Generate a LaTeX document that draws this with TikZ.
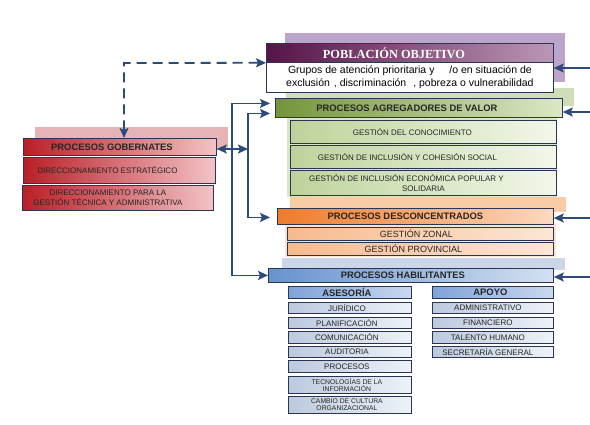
\documentclass[tikz,border=0pt]{standalone}
\usepackage{fontspec}
\setmainfont{Liberation Sans}
\newfontfamily\serifb{Liberation Serif}
\usetikzlibrary{arrows.meta}
\newcommand\padR[2]{#2\hspace{#1}\null}
\definecolor{bord}{HTML}{2B3553}
\definecolor{linkc}{HTML}{2E4A7B}
\definecolor{purD}{HTML}{541447}
\definecolor{purM}{HTML}{7A3A6E}
\definecolor{purL}{HTML}{BC97B6}
\definecolor{purS}{HTML}{BBA5CB}
\definecolor{grnD}{HTML}{74943A}
\definecolor{grnL}{HTML}{DCE8C6}
\definecolor{grnS}{HTML}{CFDDB9}
\definecolor{grnSubD}{HTML}{BDD39A}
\definecolor{grnSubL}{HTML}{F2F7EA}
\definecolor{grnBg}{HTML}{D8E5C6}
\definecolor{orgD}{HTML}{EE7B2B}
\definecolor{orgL}{HTML}{FBD9C0}
\definecolor{orgS}{HTML}{F9CCA8}
\definecolor{orgSubD}{HTML}{F7BA8D}
\definecolor{orgSubL}{HTML}{FCE6D6}
\definecolor{orgBg}{HTML}{FCE3D0}
\definecolor{bluD}{HTML}{6893CD}
\definecolor{bluL}{HTML}{D3E0F2}
\definecolor{bluS}{HTML}{CBD7E9}
\definecolor{bluMD}{HTML}{7FA3D7}
\definecolor{bluML}{HTML}{C9D8EE}
\definecolor{bluSubD}{HTML}{BCC9DE}
\definecolor{bluSubL}{HTML}{EEF2F8}
\definecolor{redD}{HTML}{BA1F27}
\definecolor{redM}{HTML}{C9313A}
\definecolor{redL}{HTML}{F3C3C6}
\definecolor{redS}{HTML}{E6B3B6}
\tikzset{
  box/.style={draw=bord, line width=0.8pt, inner sep=1pt, align=center, anchor=north west},
  hdrtxt/.style={font=\fontsize{9.4}{10}\selectfont\bfseries, text=black!85},
  subtxt/.style={font=\fontsize{8}{9.5}\selectfont, text=black!85},
  itemtxt/.style={font=\fontsize{8}{8.5}\selectfont, text=black!85},
  tinytxt/.style={font=\fontsize{6.8}{7}\selectfont, text=black!85},
  grnbox/.style={box, left color=grnSubD, right color=grnSubL},
  orgbox/.style={box, left color=orgSubD, right color=orgSubL},
  blubox/.style={box, left color=bluSubD, right color=bluSubL},
  redbox/.style={box, left color=redD, middle color=redM, right color=redL},
  link/.style={draw=linkc, line width=1.8pt, -{Stealth[length=10pt,width=9pt,inset=2pt]}},
  link2/.style={draw=linkc, line width=1.8pt, {Stealth[length=10pt,width=9pt,inset=2pt]}-{Stealth[length=10pt,width=9pt,inset=2pt]}},
}
\begin{document}
\begin{tikzpicture}[x=1pt,y=-1pt]
\useasboundingbox[fill=white] (0,0) rectangle (590,424);
% shadows
\fill[purS] (285,33) rectangle (565,82);
\fill[grnS] (286,88) rectangle (574,106);
\fill[grnBg] (287,117) rectangle (557,197);
\fill[orgS] (290,197) rectangle (566,212);
\fill[orgBg] (285,224) rectangle (556,257);
\fill[bluS] (282,258) rectangle (565,270);
\fill[redS] (35,127) rectangle (228,150);
% poblacion
\node[box, left color=purD, middle color=purM, right color=purL, minimum width=287pt, minimum height=19pt,
  font=\serifb\fontsize{12.4}{13}\selectfont\bfseries, text=white] (pobH) at (266,43) {\padR{32pt}{POBLACIÓN OBJETIVO}};
\node[box, fill=white, minimum width=287pt, minimum height=30pt,
  font=\fontsize{10.5}{12.5}\selectfont] (pobT) at (266,62)
  {Grupos de atención prioritaria y\hspace{12pt} /o en situación de\\exclusión\hspace{4pt}, discriminación\hspace{7pt}, pobreza o vulnerabilidad};
% agregadores
\node[box, hdrtxt, left color=grnD, right color=grnL, minimum width=287pt, minimum height=19pt] (agrH) at (275,98) {\padR{24pt}{PROCESOS AGREGADORES DE VALOR}};
\node[grnbox, subtxt, minimum width=266pt, minimum height=23pt] (agr1) at (290,120) {\padR{22pt}{GESTIÓN DEL CONOCIMIENTO}};
\node[grnbox, subtxt, minimum width=266pt, minimum height=23pt] (agr2) at (290,145) {\padR{32pt}{GESTIÓN DE INCLUSIÓN Y COHESIÓN SOCIAL}};
\node[grnbox, subtxt, minimum width=266pt, minimum height=25pt] (agr3) at (290,170) {\padR{34pt}{GESTIÓN DE INCLUSIÓN ECONÓMICA POPULAR Y}\\SOLIDARIA};
% desconcentrados
\node[box, hdrtxt, left color=orgD, right color=orgL, minimum width=276pt, minimum height=16pt] (desH) at (277,208) {\padR{20pt}{PROCESOS DESCONCENTRADOS}};
\node[orgbox, font=\fontsize{9}{9.5}\selectfont, text=black!85, minimum width=266pt, minimum height=13pt] (des1) at (287,227) {\padR{8pt}{GESTIÓN ZONAL}};
\node[orgbox, font=\fontsize{9}{9.5}\selectfont, text=black!85, minimum width=266pt, minimum height=13pt] (des2) at (287,242) {\padR{14pt}{GESTIÓN PROVINCIAL}};
% habilitantes
\node[box, hdrtxt, left color=bluD, right color=bluL, minimum width=285pt, minimum height=14pt] (habH) at (268,268) {\padR{16pt}{PROCESOS HABILITANTES}};
\node[box, hdrtxt, left color=bluMD, right color=bluML, minimum width=123pt, minimum height=12pt] (ases) at (288,286) {\padR{6pt}{ASESORÍA}};
\node[box, hdrtxt, left color=bluMD, right color=bluML, minimum width=121pt, minimum height=12pt] (apoyo) at (432,286) {\padR{5pt}{APOYO}};
\node[blubox, itemtxt, minimum width=123pt, minimum height=11pt] (jur) at (288,302) {\padR{6pt}{JURÍDICO}};
\node[blubox, itemtxt, minimum width=123pt, minimum height=11pt] (plan) at (288,317) {\padR{6pt}{PLANIFICACIÓN}};
\node[blubox, itemtxt, minimum width=123pt, minimum height=12pt] (com) at (288,331) {\padR{6pt}{COMUNICACIÓN}};
\node[blubox, itemtxt, minimum width=123pt, minimum height=11pt] (aud) at (288,346) {\padR{6pt}{AUDITORIA}};
\node[blubox, itemtxt, minimum width=123pt, minimum height=12pt] (proc) at (288,360) {\padR{6pt}{PROCESOS}};
\node[blubox, tinytxt, minimum width=123pt, minimum height=17pt] (tec) at (288,376) {\padR{6pt}{TECNOLOGÍAS DE LA}\\\padR{6pt}{INFORMACIÓN}};
\node[blubox, tinytxt, minimum width=123pt, minimum height=17pt] (cam) at (288,396) {\padR{6pt}{CAMBIO DE CULTURA}\\\padR{6pt}{ORGANIZACIONAL}};
\node[blubox, itemtxt, minimum width=121pt, minimum height=11pt] (adm) at (432,302) {\padR{10pt}{ADMINISTRATIVO}};
\node[blubox, itemtxt, minimum width=121pt, minimum height=11pt] (fin) at (432,317) {\padR{10pt}{FINANCIERO}};
\node[blubox, itemtxt, minimum width=121pt, minimum height=12pt] (tal) at (432,331) {\padR{10pt}{TALENTO HUMANO}};
\node[blubox, itemtxt, minimum width=121pt, minimum height=11pt] (sec) at (432,346) {\padR{10pt}{SECRETARÍA GENERAL}};
% gobernantes
\node[box, hdrtxt, left color=redD, middle color=redM, right color=redL, minimum width=193pt, minimum height=17pt] (gobH) at (23,138) {\padR{16pt}{PROCESOS GOBERNATES}};
\node[redbox, subtxt, minimum width=192pt, minimum height=26pt] (gob1) at (23,157) {\padR{24pt}{DIRECCIONAMIENTO ESTRATÉGICO}};
\node[redbox, subtxt, minimum width=191pt, minimum height=25pt] (gob2) at (22,185) {\padR{20pt}{DIRECCIONAMIENTO PARA LA}\\\padR{20pt}{GESTIÓN TÉCNICA Y ADMINISTRATIVA}};
% connectors
\coordinate (d1) at (124,63);
\draw[link2, dash pattern=on 10pt off 6pt] (pobH.south west) -- (d1) -- (d1 |- gobH.north);
\coordinate (j1) at (232,149);
\coordinate (j2) at (248,149);
\draw[link2] (gobH.east |- j1) -- (j2);
\draw[link, shorten >=5pt] (j1) |- ([yshift=4.5pt]agrH.west);
\draw[link] (j1) |- (habH.west);
\draw[link, shorten >=5pt] (j2) |- ([yshift=-5.5pt]agrH.west);
\draw[link, shorten >=7pt] (j2) |- ([yshift=-1pt]desH.west);
\coordinate (e1) at (590,68);
\coordinate (e2) at (590,112);
\coordinate (e3) at (590,218);
\coordinate (e4) at (590,277);
\draw[link] (e1) -- (e1 -| pobT.east);
\draw[link] (e2) -- (e2 -| agrH.east);
\draw[link] (e3) -- (e3 -| desH.east);
\draw[link] (e4) -- (e4 -| habH.east);
\end{tikzpicture}
\end{document}
